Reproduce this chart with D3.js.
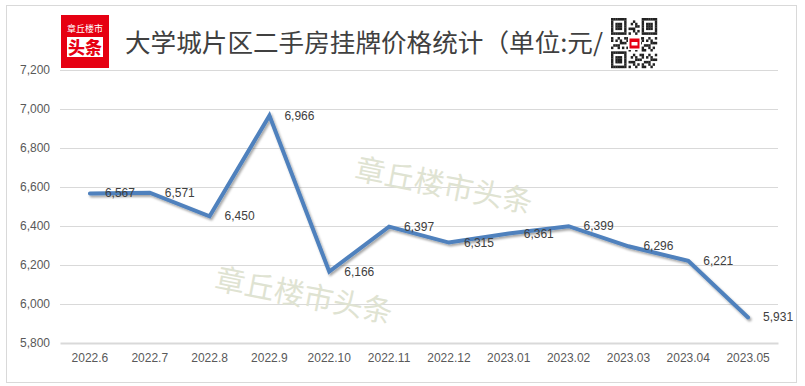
<!DOCTYPE html>
<html><head><meta charset="utf-8">
<script src="https://cdn.jsdelivr.net/npm/d3@7/dist/d3.min.js"></script>
<style>
html,body{margin:0;padding:0;background:#fff;}
svg{display:block;}
</style></head>
<body>
<svg id="c" width="805" height="386"></svg>
<script>
const categories = ["2022.6","2022.7","2022.8","2022.9","2022.10","2022.11","2022.12","2023.01","2023.02","2023.03","2023.04","2023.05"];
const prices = [6567,6571,6450,6966,6166,6397,6315,6361,6399,6296,6221,5931];
const yTicks = [5800,6000,6200,6400,6600,6800,7000,7200];
const titleText = "大学城片区二手房挂牌价格统计（单位:元/";
const watermarkText = "章丘楼市头条";

const svg = d3.select("#c");
const W = 805, H = 386;

// outer border
svg.append("rect").attr("x",6.5).attr("y",5.5).attr("width",790).attr("height",377)
  .attr("fill","#fff").attr("stroke","#d9d9d9").attr("stroke-width",1);

const x = d3.scaleBand().domain(categories).range([60,778]).padding(0);
const y = d3.scaleLinear().domain([5800,7200]).range([343,70]);

// gridlines
svg.append("g").selectAll("line").data(yTicks.filter(t=>t!==5800)).join("line")
  .attr("x1",60).attr("x2",778).attr("y1",d=>Math.round(y(d))+0.5).attr("y2",d=>Math.round(y(d))+0.5)
  .attr("stroke","#d9d9d9").attr("stroke-width",1);

// watermarks
const wm = [[356,166,11],[216,276,11]];
svg.append("g").selectAll("text").data(wm).join("text")
  .attr("transform",d=>`translate(${d[0]},${d[1]}) rotate(${d[2]})`)
  .attr("font-family","'Noto Sans CJK SC'").attr("font-size",30)
  .attr("fill","#dfe3d2").attr("dominant-baseline","central")
  .text(watermarkText);

// y axis labels
const yAxis = d3.axisLeft(y).tickValues(yTicks).tickSize(0).tickPadding(10).tickFormat(d3.format(","));
const ya = svg.append("g").attr("transform","translate(60,0)").call(yAxis);
ya.select(".domain").remove();
ya.selectAll("text").attr("font-family","'Liberation Sans',Arial,sans-serif").attr("font-size",12).attr("fill","#595959");

// x axis
const xAxis = d3.axisBottom(x).tickSize(0).tickPadding(10);
const xa = svg.append("g").attr("transform",`translate(0,${y(5800)})`).call(xAxis);
xa.select(".domain").attr("stroke","#d9d9d9").attr("stroke-width",2);
xa.selectAll("text").attr("font-family","'Liberation Sans',Arial,sans-serif").attr("font-size",12).attr("fill","#595959");

// shadow filter
const defs = svg.append("defs");
const f = defs.append("filter").attr("id","sh").attr("x","-10%").attr("y","-10%").attr("width","120%").attr("height","130%");
f.append("feDropShadow").attr("dx",1.5).attr("dy",2).attr("stdDeviation",1.3).attr("flood-color","#000").attr("flood-opacity",0.35);

const cx = d => x(d) + x.bandwidth()/2;
const line = d3.line().x((d,i)=>cx(categories[i])).y(d=>y(d));
svg.append("path").datum(prices).attr("d",line)
  .attr("fill","none").attr("stroke","#4f81bd").attr("stroke-width",4)
  .attr("stroke-linecap","round").attr("stroke-linejoin","miter")
  .attr("filter","url(#sh)");

// data labels
svg.append("g").selectAll("text").data(prices).join("text")
  .attr("x",(d,i)=>cx(categories[i])+15).attr("y",d=>y(d))
  .attr("dominant-baseline","central")
  .attr("font-family","'Liberation Sans',Arial,sans-serif").attr("font-size",12).attr("fill","#404040")
  .text(d=>d3.format(",")(d));

// logo
const logo = svg.append("g").attr("transform","translate(61,15)");
logo.append("rect").attr("width",48).attr("height",53).attr("fill","#e60012");
logo.append("text").attr("x",24).attr("y",17).attr("text-anchor","middle")
  .attr("font-family","'Noto Sans CJK SC'").attr("font-size",9).attr("fill","#fff").text("章丘楼市");
logo.append("rect").attr("x",6).attr("y",22).attr("width",36).attr("height",20).attr("fill","#fff");
logo.append("text").attr("x",24).attr("y",38.5).attr("text-anchor","middle")
  .attr("font-family","'Noto Sans CJK SC'").attr("font-weight",900).attr("font-size",17).attr("fill","#e60012").text("头条");

// title
svg.append("text").attr("x",125).attr("y",52)
  .attr("font-family","'Noto Sans CJK SC'").attr("font-size",25).attr("fill","#404040")
  .attr("textLength",478).attr("lengthAdjust","spacingAndGlyphs")
  .text(titleText);

// QR code decoration
const qr = svg.append("g").attr("transform","translate(611,18)");
const N = 21, mw = 46/N, mh = 50/N;
const cells = [];
for (let i=0;i<N;i++) for (let j=0;j<N;j++){
  const inF = (a,b)=> (i>=a&&i<a+7&&j>=b&&j<b+7);
  let on;
  if (inF(0,0)||inF(0,14)||inF(14,0)) {
    const a = i<7?0:14, b = j<7?0:14;
    const ii=i-a, jj=j-b;
    on = (ii===0||ii===6||jj===0||jj===6) || (ii>=2&&ii<=4&&jj>=2&&jj<=4);
  } else if ((i===7&&(j<8||j>12))||(j===7&&(i<8||i>12))||(i===13&&j<8)||(j===13&&i<8)) {
    on = false;
  } else {
    on = ((i*i*3 + j*7 + i*j*5 + 11) % 7) < 3;
  }
  if (on) cells.push([i,j]);
}
qr.selectAll("rect.m").data(cells).join("rect").attr("class","m")
  .attr("x",d=>d[1]*mw).attr("y",d=>d[0]*mh).attr("width",mw+0.2).attr("height",mh+0.2).attr("fill","#222");
qr.append("rect").attr("x",17).attr("y",19).attr("width",13).attr("height",13).attr("fill","#fff");
qr.append("rect").attr("x",18.5).attr("y",20.5).attr("width",10).attr("height",10).attr("fill","#e60012");
qr.append("rect").attr("x",20.5).attr("y",24).attr("width",6).attr("height",3.5).attr("fill","#fff");
</script>
</body></html>
